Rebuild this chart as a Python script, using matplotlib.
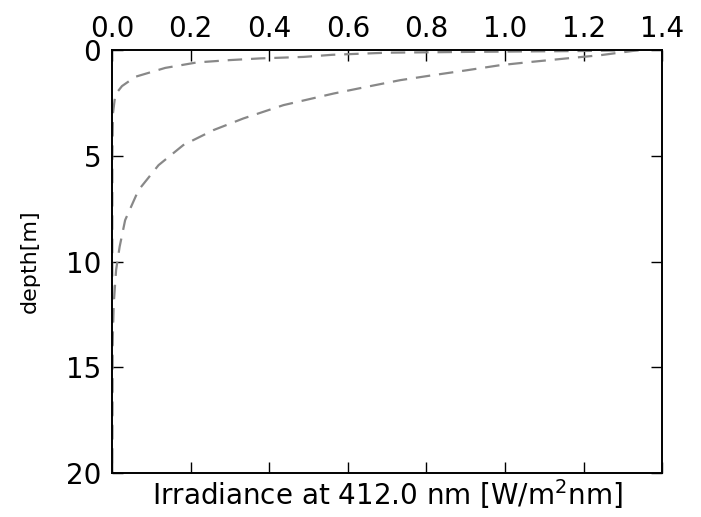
import matplotlib.pyplot as plt

# irradiance profiles (depth in m, irradiance in W/m^2 nm)
depth_fast = [0, 0.04, 0.08, 0.12, 0.22, 0.32, 0.39, 0.47, 0.58, 0.84, 1.26, 1.7, 2.1, 3.0, 5.0, 20]
irr_fast = [1.34, 1.2, 0.92, 0.7, 0.56, 0.487, 0.377, 0.30, 0.216, 0.135, 0.059, 0.025, 0.008, 0.002, 0.0005, 0.0]

depth_slow = [0, 0.05, 0.24, 0.39, 0.55, 0.71, 0.95, 1.18, 1.42, 1.73, 2.05, 2.6, 3.23, 3.78,
              4.49, 5.44, 6.62, 8.04, 9.3, 10.4, 12, 14, 20]
irr_slow = [1.34, 1.32, 1.242, 1.157, 1.07, 0.988, 0.903, 0.818, 0.733, 0.649, 0.564, 0.436, 0.334, 0.258,
            0.181, 0.118, 0.067, 0.033, 0.019, 0.010, 0.004, 0.001, 0.0]

xticks = [0.0, 0.2, 0.4, 0.6, 0.8, 1.0, 1.2, 1.4]
yticks = [0, 5, 10, 15, 20]

fig = plt.figure(figsize=(7.01, 5.17), dpi=100)
ax = fig.add_axes([0.16, 0.085, 0.7846, 0.818])

for d, e in [(depth_fast, irr_fast), (depth_slow, irr_slow)]:
    ax.plot(e, d, color='#888888', linewidth=1.6, linestyle=(0, (6.5, 4)))

ax.set_xlim(0, 1.4)
ax.set_ylim(20, 0)
ax.set_xticks(xticks)
ax.set_yticks(yticks)
ax.set_xticklabels(['%.1f' % t for t in xticks])
ax.xaxis.tick_top()
ax.xaxis.set_label_position('bottom')
ax.tick_params(axis='both', direction='in', length=8, width=1,
               top=True, bottom=True, left=True, right=True, labelsize=20)
ax.tick_params(axis='x', labeltop=True, labelbottom=False, pad=5)
ax.tick_params(axis='y', pad=8)
for s in ax.spines.values():
    s.set_linewidth(1.4)

ax.set_xlabel('Irradiance at 412.0 nm [W/m$^2$nm]', fontsize=20, labelpad=3)
ax.set_ylabel('depth[m]', fontsize=16, labelpad=19)

plt.savefig('out.png', dpi=100)
